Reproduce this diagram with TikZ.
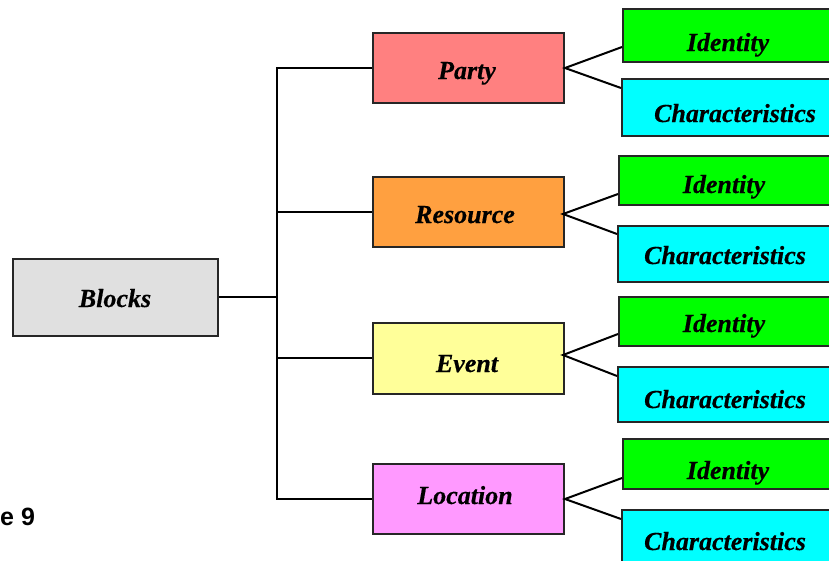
\documentclass[tikz,border=0pt]{standalone}
\usepackage{fontspec}
\setmainfont{Liberation Serif}[BoldItalicFeatures={FakeBold=0.4}]
\newfontfamily\capfont{Liberation Sans}
\usetikzlibrary{shadows}

\definecolor{blockc}{HTML}{E0E0E0}
\definecolor{partyc}{HTML}{FF8080}
\definecolor{resourcec}{HTML}{FFA040}
\definecolor{eventc}{HTML}{FFFF99}
\definecolor{locationc}{HTML}{FF99FF}
\definecolor{identc}{HTML}{00FF00}
\definecolor{charc}{HTML}{00FFFF}

\tikzset{
  box/.style={draw=black!85, line width=2pt, rectangle, inner sep=0pt,
    general shadow={fill=black!30, shadow xshift=1.2pt, shadow yshift=-1.2pt}},
  lbl/.style={anchor=base, inner sep=0pt, font=\fontsize{26}{30}\selectfont\bfseries\itshape},
  link/.style={draw=black, line width=2pt},
}

\begin{document}
\begin{tikzpicture}[x=1pt, y=-1pt]
  \useasboundingbox (0,0) rectangle (829,560);

  % root
  \node[box, fill=blockc, minimum width=205pt, minimum height=77pt] (blocks) at (115.5,297) {};
  \node[lbl] (blocksT) at (115,307) {Blocks};

  % second level
  \node[box, fill=partyc,    minimum width=191pt, minimum height=70pt] (party)    at (468.5,68)  {};
  \node[box, fill=resourcec, minimum width=191pt, minimum height=70pt] (resource) at (468.5,212) {};
  \node[box, fill=eventc,    minimum width=191pt, minimum height=71pt] (event)    at (468.5,358) {};
  \node[box, fill=locationc, minimum width=191pt, minimum height=70pt] (location) at (468.5,499) {};
  \node[lbl] (partyT)    at (467,79)  {Party};
  \node[lbl] (resourceT) at (465,223) {Resource};
  \node[lbl] (eventT)    at (467,372) {Event};
  \node[lbl] (locationT) at (465,504) {Location};

  % third level (boxes run past the right edge)
  \node[box, fill=identc, minimum width=209pt, minimum height=53pt] (pid) at (727.5,35.5)  {};
  \node[box, fill=charc,  minimum width=210pt, minimum height=57pt] (pch) at (727,107.5)   {};
  \node[box, fill=identc, minimum width=213pt, minimum height=49pt] (rid) at (725.5,180.5) {};
  \node[box, fill=charc,  minimum width=214pt, minimum height=56pt] (rch) at (725,254)     {};
  \node[box, fill=identc, minimum width=213pt, minimum height=49pt] (eid) at (725.5,321.5) {};
  \node[box, fill=charc,  minimum width=214pt, minimum height=55pt] (ech) at (725,394.5)   {};
  \node[box, fill=identc, minimum width=209pt, minimum height=50pt] (lid) at (727.5,464)   {};
  \node[box, fill=charc,  minimum width=210pt, minimum height=56pt] (lch) at (727,538)     {};

  \node[lbl] (pidT) at (728,51)  {Identity};
  \node[lbl] (pchT) at (735,122) {Characteristics};
  \node[lbl] (ridT) at (724,193) {Identity};
  \node[lbl] (rchT) at (725,264) {Characteristics};
  \node[lbl] (eidT) at (724,332) {Identity};
  \node[lbl] (echT) at (725,408) {Characteristics};
  \node[lbl] (lidT) at (728,479) {Identity};
  \node[lbl] (lchT) at (725,550) {Characteristics};

  % caption fragment
  \node[anchor=base west, inner sep=0pt, font=\capfont\fontsize{25}{30}\selectfont\bfseries] (fig) at (0,525) {e 9};

  % bus from the root to the second level
  \coordinate (busx) at (277,0);
  \draw[link] (blocks.east) -- (busx |- blocks.east);
  \draw[link] (party.west) -- (busx |- party.west) -- (busx |- location.west) -- (location.west);
  \draw[link] (resource.west) -- (busx |- resource.west);
  \draw[link] (event.west) -- (busx |- event.west);

  % forks to the third level
  \draw[link] ([yshift=16pt]pid.south west) -- (party.east) -- ([yshift=-10pt]pch.north west);
  \draw[link] ([yshift=12pt]rid.south west) -- ([xshift=-2pt,yshift=-2pt]resource.east) -- ([yshift=-9pt]rch.north west);
  \draw[link] ([yshift=13pt]eid.south west) -- ([xshift=-2pt,yshift=3pt]event.east) -- ([yshift=-10pt]ech.north west);
  \draw[link] ([yshift=12pt]lid.south west) -- (location.east) -- ([yshift=-10pt]lch.north west);
\end{tikzpicture}
\end{document}
